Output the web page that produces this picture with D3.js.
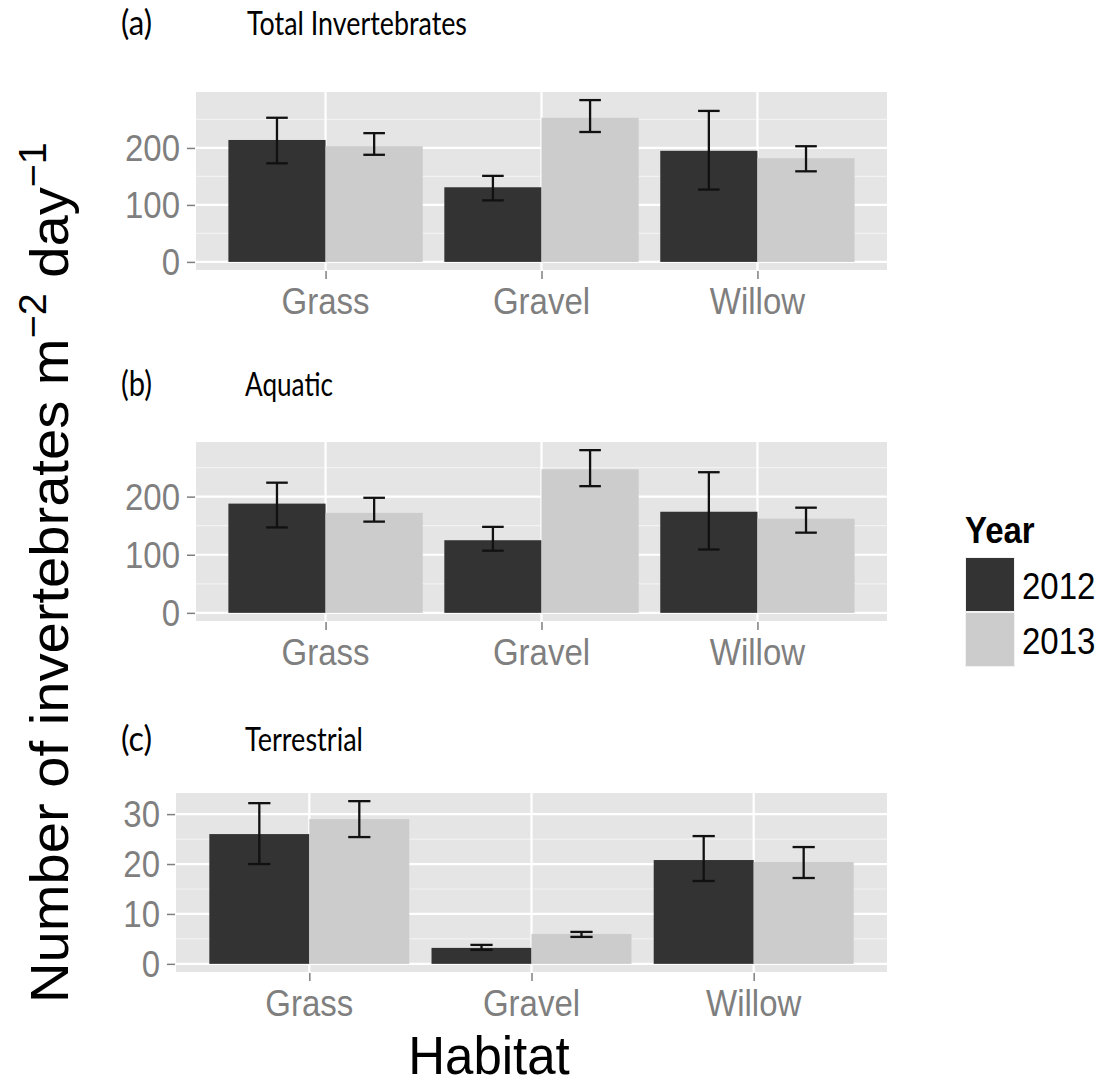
<!DOCTYPE html>
<html>
<head>
<meta charset="utf-8">
<script src="https://cdn.jsdelivr.net/npm/d3@7"></script>
<style>
  html, body { margin: 0; padding: 0; background: #ffffff; }
  svg { display: block; }
</style>
</head>
<body>
<script>
// ---- data ----
const habitats = ["Grass", "Gravel", "Willow"];
const years = ["2012", "2013"];

// (a) Total invertebrates: mean, lower and upper error limits
const totalMean2012  = [214, 131, 195];
const totalMean2013  = [203, 253, 182];
const totalLower2012 = [173, 108, 127];
const totalLower2013 = [188, 228, 159];
const totalUpper2012 = [253, 151, 265];
const totalUpper2013 = [226, 284, 203];

// (b) Aquatic
const aquaticMean2012  = [188, 125, 174];
const aquaticMean2013  = [172, 247, 162];
const aquaticLower2012 = [147, 107, 109];
const aquaticLower2013 = [157, 218, 138];
const aquaticUpper2012 = [224, 148, 242];
const aquaticUpper2013 = [198, 280, 181];

// (c) Terrestrial
const terrMean2012  = [26.0, 3.2, 20.8];
const terrMean2013  = [29.0, 6.0, 20.4];
const terrLower2012 = [20.0, 2.8, 16.6];
const terrLower2013 = [25.4, 5.4, 17.2];
const terrUpper2012 = [32.2, 3.8, 25.6];
const terrUpper2013 = [32.6, 6.4, 23.4];

const panelTags   = ["(a)", "(b)", "(c)"];
const panelTitles = ["Total Invertebrates", "Aquatic", "Terrestrial"];
const yTicksCount = [0, 100, 200];
const yTicksSmall = [0, 10, 20, 30];

const yAxisTitle = "Number of invertebrates m";
const xAxisTitle = "Habitat";
const legendTitle = "Year";

// ---- style / layout ----
const W = 1104, H = 1085;
const yearColors = ["#333333", "#cccccc"];
const panelBg = "#e5e5e5";
const gridMinor = "#f2f2f2";
const tickGrey = "#7f7f7f";
const sansFont = "'Liberation Sans', Arial, Helvetica, sans-serif";
const titleFont = "Lato, 'Open Sans', sans-serif";
const vScale = 1.1; // text is drawn slightly taller than wide

function rows(mean, lower, upper) {
  return habitats.map((h, i) => ({ habitat: h, mean: mean[i], lower: lower[i], upper: upper[i] }));
}

const panels = [
  {
    tag: panelTags[0], title: panelTitles[0], ticks: yTicksCount,
    series: [rows(totalMean2012, totalLower2012, totalUpper2012), rows(totalMean2013, totalLower2013, totalUpper2013)],
    box: { left: 196, top: 92, right: 887, bottom: 270 },
    titleY: 35, titleW: 220, tagX: 121, titleX: 247
  },
  {
    tag: panelTags[1], title: panelTitles[1], ticks: yTicksCount,
    series: [rows(aquaticMean2012, aquaticLower2012, aquaticUpper2012), rows(aquaticMean2013, aquaticLower2013, aquaticUpper2013)],
    box: { left: 196, top: 442, right: 887, bottom: 621 },
    titleY: 396, titleW: 88, tagX: 121, titleX: 245
  },
  {
    tag: panelTags[2], title: panelTitles[2], ticks: yTicksSmall,
    series: [rows(terrMean2012, terrLower2012, terrUpper2012), rows(terrMean2013, terrLower2013, terrUpper2013)],
    box: { left: 176, top: 793, right: 887, bottom: 972 },
    titleY: 751, titleW: 118, tagX: 121, titleX: 245
  }
];

const svg = d3.select("body").append("svg")
  .attr("width", W).attr("height", H)
  .attr("viewBox", `0 0 ${W} ${H}`);

svg.append("rect").attr("width", W).attr("height", H).attr("fill", "#ffffff");

// text drawn with a vertical stretch around its baseline anchor
function stretchedText(parent, x, y, str, opts) {
  const g = parent.append("g").attr("transform", `translate(${x},${y}) scale(1,${opts.k || vScale})`);
  const t = g.append("text")
    .attr("x", 0).attr("y", 0)
    .attr("font-family", opts.family || sansFont)
    .attr("font-size", opts.size)
    .attr("font-weight", opts.weight || "normal")
    .attr("fill", opts.fill || "#000")
    .attr("text-anchor", opts.anchor || "start")
    .text(str);
  if (opts.len) t.attr("textLength", opts.len).attr("lengthAdjust", "spacingAndGlyphs");
  return t;
}

panels.forEach(p => {
  const b = p.box;
  const g = svg.append("g");
  const maxU = d3.max(p.series.flat(), d => d.upper);

  const x = d3.scalePoint().domain(habitats).range([b.left, b.right]).padding(0.6);
  const step = x.step();
  const xYear = d3.scaleBand().domain(years).range([-0.45 * step, 0.45 * step]).padding(0);
  const y = d3.scaleLinear().domain([-0.05 * maxU, 1.05 * maxU]).range([b.bottom, b.top]);

  // panel background
  g.append("rect")
    .attr("x", b.left).attr("y", b.top)
    .attr("width", b.right - b.left).attr("height", b.bottom - b.top)
    .attr("fill", panelBg);

  // minor gridlines halfway between major ticks
  const tStep = p.ticks[1] - p.ticks[0];
  const minor = d3.range(p.ticks[0] - tStep / 2, y.domain()[1], tStep)
    .filter(v => v > y.domain()[0] && v < y.domain()[1]);
  g.selectAll(".minor").data(minor).join("line")
    .attr("x1", b.left).attr("x2", b.right)
    .attr("y1", d => y(d)).attr("y2", d => y(d))
    .attr("stroke", gridMinor).attr("stroke-width", 1.2);

  // major gridlines
  g.selectAll(".hmajor").data(p.ticks).join("line")
    .attr("x1", b.left).attr("x2", b.right)
    .attr("y1", d => y(d)).attr("y2", d => y(d))
    .attr("stroke", "#ffffff").attr("stroke-width", 2.2);
  g.selectAll(".vmajor").data(habitats).join("line")
    .attr("x1", d => x(d)).attr("x2", d => x(d))
    .attr("y1", b.top).attr("y2", b.bottom)
    .attr("stroke", "#ffffff").attr("stroke-width", 2.2);

  // bars
  p.series.forEach((s, si) => {
    const yr = years[si];
    g.selectAll(`.bar${si}`).data(s).join("rect")
      .attr("x", d => x(d.habitat) + xYear(yr))
      .attr("width", xYear.bandwidth())
      .attr("y", d => y(d.mean))
      .attr("height", d => y(0) - y(d.mean))
      .attr("fill", yearColors[si]);
  });

  // error bars
  const cap = 0.05 * step;
  p.series.forEach((s, si) => {
    const yr = years[si];
    const cx = d => x(d.habitat) + xYear(yr) + xYear.bandwidth() / 2;
    const eg = g.append("g").attr("stroke", "#111").attr("stroke-width", 2.3).attr("fill", "none");
    eg.selectAll(".stem").data(s).join("line")
      .attr("x1", cx).attr("x2", cx)
      .attr("y1", d => y(d.lower)).attr("y2", d => y(d.upper));
    eg.selectAll(".capU").data(s).join("line")
      .attr("x1", d => cx(d) - cap).attr("x2", d => cx(d) + cap)
      .attr("y1", d => y(d.upper)).attr("y2", d => y(d.upper));
    eg.selectAll(".capL").data(s).join("line")
      .attr("x1", d => cx(d) - cap).attr("x2", d => cx(d) + cap)
      .attr("y1", d => y(d.lower)).attr("y2", d => y(d.lower));
  });

  // y axis: ticks and labels
  const yAxis = d3.axisLeft(y).tickValues(p.ticks).tickSize(8).tickFormat("");
  const ya = g.append("g").attr("transform", `translate(${b.left - 1},0)`).call(yAxis);
  ya.select(".domain").remove();
  ya.selectAll("line").attr("stroke", tickGrey).attr("stroke-width", 1.5);
  p.ticks.forEach(v => {
    stretchedText(g, b.left - 16, y(v) + 0.36 * 33 * vScale, d3.format("d")(v),
      { size: 33, fill: tickGrey, anchor: "end" });
  });

  // x axis: ticks and labels
  const xAxis = d3.axisBottom(x).tickSize(8).tickFormat("");
  const xa = g.append("g").attr("transform", `translate(0,${b.bottom + 1})`).call(xAxis);
  xa.select(".domain").remove();
  xa.selectAll("line").attr("stroke", tickGrey).attr("stroke-width", 1.5);
  habitats.forEach(h => {
    stretchedText(g, x(h), b.bottom + 44, h, { size: 33, fill: tickGrey, anchor: "middle" });
  });

  // panel tag and title
  stretchedText(svg, p.tagX, p.titleY, p.tag, { size: 29, family: titleFont, k: 1.2, len: 31 });
  stretchedText(svg, p.titleX, p.titleY, p.title, { size: 27, family: titleFont, k: 1.2, len: p.titleW });
});

// y axis title with superscripts
const yt = svg.append("text")
  .attr("font-family", sansFont)
  .attr("font-size", 54)
  .attr("fill", "#000");
yt.append("tspan").text(yAxisTitle);
yt.append("tspan").attr("font-size", 38).attr("dy", -22).text("\u22122");
yt.append("tspan").attr("dy", 22).text(" day");
yt.append("tspan").attr("font-size", 38).attr("dy", -22).text("\u22121");
const ytLen = yt.node().getComputedTextLength();
const targetLen = 861;
yt.attr("transform", `translate(68,1003) rotate(-90) scale(${targetLen / ytLen},1)`);

// x axis title
stretchedText(svg, 489, 1074, xAxisTitle, { size: 51, anchor: "middle", k: 1.07 });

// legend
const lg = svg.append("g");
stretchedText(lg, 965, 543, legendTitle, { size: 33, weight: "bold" });
years.forEach((yr, i) => {
  const top = 557 + i * 55;
  lg.append("rect")
    .attr("x", 965).attr("y", top).attr("width", 50).attr("height", 55)
    .attr("fill", "#f2f2f2");
  lg.append("rect")
    .attr("x", 966).attr("y", top + 1).attr("width", 48).attr("height", 53)
    .attr("fill", yearColors[i]);
  stretchedText(lg, 1022, top + 42, yr, { size: 33 });
});
</script>
</body>
</html>
